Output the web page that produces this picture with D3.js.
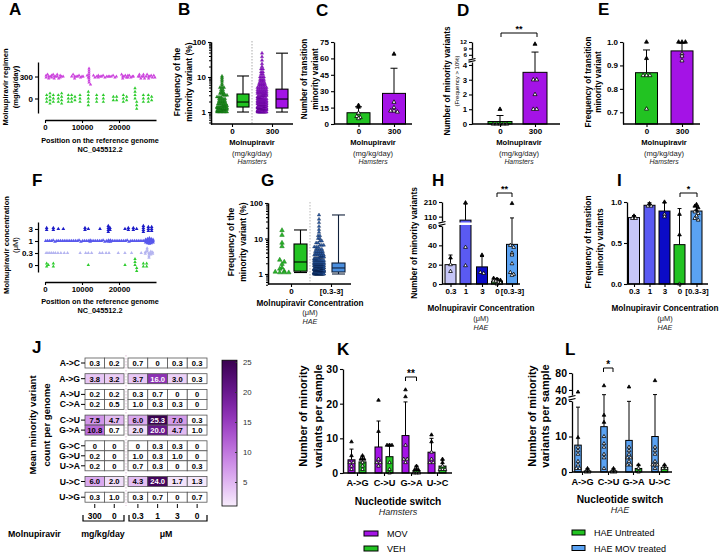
<!DOCTYPE html>
<html>
<head>
<meta charset="utf-8">
<script src="https://cdn.jsdelivr.net/npm/d3@7/dist/d3.min.js"></script>
<style>
html,body{margin:0;padding:0;background:#fff;}
svg{display:block;}
</style>
</head>
<body>
<script>
// ======================= DATA =======================
const genomeTicks = [0, 10000, 20000];

// A: minority-variant positions on the genome per regimen (mg/kg/day)
const aRegimens = ["300", "0"];
const aPos300 = [300,300,700,1000,1000,1400,1800,1800,2200,2500,2500,2900,3300,3300,3700,4100,4100,4500,4900,
  7200,7600,8000,8000,8400,8800,9200,9600,10000,10300,
  11400,11700,11900,11900,11900,11900,11900,11900,11900,11900,12300,
  13100,13500,14000,14400,14400,14900,15300,15700,16200,16700,17100,17500,17900,18400,18900,19300,
  20700,21000,21000,21300,21700,22000,22400,22400,22800,23200,23600,23900,
  25200,25500,25500,25900,26200,26600,26600,26900,27300,27600,28000,28000,28300,28700,29000,29400,29700];
const aPos0 = [450,450,450,1350,1350,1350,1350,2250,2250,2250,3600,3600,3600,4500,4500,4500,4500,
  6300,6300,6300,7200,7200,7200,8100,8100,9460,9460,9460,11710,11710,11710,11710,11710,
  13960,13960,13960,15770,15770,15770,18470,18470,19370,19370,21170,21170,21170,22070,22070,
  24330,24330,24330,24330,24780,24780,24780,26580,26580,26580,27930,27930,27930,28830,28830];

// B: frequency of minority variants (%), [value, count]
const bGroups = ["0", "300"];
const bBins0 = [[1.0,8],[1.1,8],[1.2,7],[1.3,6],[1.4,5],[1.5,5],[1.7,5],[1.9,4],[2.1,4],[2.4,4],[2.7,3],[3.0,3],[3.4,3],[3.8,2],[4.3,2],[5.0,3],[5.8,1],[6.5,1],[7.5,1],[8.5,1],[9.5,1],[10.5,1]];
const bBins300 = [[1.0,22],[1.1,20],[1.2,18],[1.3,16],[1.4,14],[1.5,13],[1.7,14],[1.9,12],[2.1,12],[2.4,11],[2.7,10],[3.0,9],[3.4,8],[3.8,7],[4.3,6],[5.0,6],[5.8,4],[6.5,4],[7.5,3],[8.5,3],[10,3],[12,2],[14,2],[17,2],[20,1],[24,1],[30,1],[38,1],[48,1]];
const bBox0 = [1.0, 1.39, 1.93, 3.27, 10.7];     // min, q1, median, q3, max
const bBox300 = [1.0, 1.30, 2.35, 4.5, 48];
const logMajor = [1, 10, 100];
const logMinor = [0.5,0.6,0.7,0.8,0.9,2,3,4,5,6,7,8,9,20,30,40,50,60,70,80,90];

// C: number of transition minority variants
const cGroups = ["0", "300"];
const cMeans = [10.3, 28];
const cSD = [5.4, 23];
const cPts = [[17, 15.5, 10, 7, 6, 5], [64, 20, 15, 12, 12, 11]];
const cTicks = [0, 15, 30, 45, 60, 75];

// D: number of minority variants (freq > 10%)
const dGroups = ["0", "300"];
const dMeans = [0.167, 3.5];
const dSD = [0.408, 3.78];
const dPts = [[1, 0, 0, 0, 0, 0], [11, 3, 3, 2, 1, 1]];
const dTicksLow = [0, 1, 2, 3, 4];
const dTicksHigh = [6, 9, 12];

// E: frequency of transition minority variant
const eGroups = ["0", "300"];
const eMeans = [0.869, 0.962];
const eSD = [0.097, 0.033];
const ePts = [[1.0, 0.93, 0.857, 0.857, 0.857, 0.714], [1.0, 1.0, 1.0, 0.95, 0.94, 0.92]];
const eTicks = [0.7, 0.8, 0.9, 1.0];

// F: positions per concentration (µM)
const fConc = ["3", "1", "0.3", "0"];
const fPos3 = [450,450,2250,2250,3600,4950,10810,10810,11710,14860,17110,17110,17110,17110,17560,17560,21620,22520,22520,23870,23870,24770,26580,26580,26580,26580,27930,27930,27930,28830,28830,28830];
const fPos1 = [200,700,1200,1700,2200,2700,3200,3700,4200,4700,5200,5700,6200,6700,7200,7700,8200,8700,9200,9700,10200,10700,11200,11700,12200,12200,12700,13200,13700,14200,14700,15200,15700,16200,16700,17200,17200,17700,17700,18200,18700,19200,19700,20200,20700,21200,21700,22200,22700,23200,23700,24200,24700,25200,25700,26200,26700,27200,27200,27200,27700,27700,27700,27700,28200,28200,28200,28200,28200,28700,28700,28700,28700,29200,29200,29200];
const fPos03 = [300,800,1300,1800,2300,2800,3500,4300,5200,6100,9500,11000,11700,12600,14800,15500,16500,17300,19800,21600,23400,26000,27100,27100,27600,27600,27600,28100,28100,28100,28100,28600,28600,28600,29100,29100];
const fPos0 = [450,450,900,2250,2250,11710,21620,24330,24330,24330,24780,24780,26580,26580,27480,27480];

// G: frequency (%) in HAE
const gGroups = ["0", "[0.3-3]"];
const gPts0 = [17, 12.5, 7.5, 6, 2.5, 2.2, 1.9, 1.5, 1.4, 1.2, 1.15, 1.1, 1.1, 1.1];
const gBinsT = [[1.0,30],[1.1,28],[1.2,25],[1.3,22],[1.4,18],[1.5,16],[1.7,15],[1.9,12],[2.1,10],[2.4,9],[2.7,8],[3.0,7],[3.4,6],[3.8,5],[4.3,5],[5.0,4],[5.8,3],[6.5,3],[7.5,2],[8.5,2],[10,2],[12,2],[15,1],[18,1],[22,1],[28,1],[35,1],[46,1]];
const gBox0 = [1.1, 1.2, 2.18, 7.0, 17.4];
const gBoxT = [1.0, 1.14, 1.48, 2.04, 46];

// H: number of minority variants in HAE
const hGroups = ["0.3", "1", "3", "0", "[0.3-3]"];
const hMeans = [20, 86, 17.7, 3, 41];
const hSD = [10, 110, 10.7, 2.8, 60];
const hPts = [[27, 20, 13], [205, 38, 19], [30, 12, 11], [6, 5, 4, 3, 3, 2, 1, 0], [200, 40, 38, 32, 30, 21, 12, 10, 9]];
const hTicksLow = [0, 20, 40, 60];
const hTicksHigh = [110, 210];

// I: frequency of transition minority variants in HAE
const iGroups = ["0.3", "1", "3", "0", "[0.3-3]"];
const iMeans = [0.81, 0.96, 0.89, 0.48, 0.89];
const iSD = [0.025, 0.03, 0.1, 0.44, 0.06];
const iPts = [[0.83, 0.8, 0.8], [0.98, 0.95, 0.95], [1.0, 0.85, 0.82], [0.85, 0.6, 0.0], [0.97, 0.95, 0.93, 0.9, 0.88, 0.86, 0.83, 0.8, 0.78]];
const iTicks = [0, 0.5, 1.0];

// J: mean minority variant count per genome
const jRows = ["A->C","A->G","A->U","C->A","C->U","G->A","G->C","G->U","U->A","U->C","U->G"];
const jRowGroups = [["A->C"],["A->G"],["A->U","C->A"],["C->U","G->A"],["G->C","G->U","U->A"],["U->C"],["U->G"]];
const jColsHam = ["300", "0"];
const jColsHAE = ["0.3", "1", "3", "0"];
const jValues = [
  [0.3, 0.2, 0.7, 0, 0.3, 0.3],
  [3.8, 3.2, 3.7, 16.0, 3.0, 0.3],
  [0.2, 0.2, 0.3, 0.7, 0, 0],
  [0.2, 0.5, 1.0, 0.3, 0.3, 0],
  [7.5, 4.7, 6.0, 25.3, 7.0, 0.3],
  [10.8, 0.7, 2.0, 20.0, 4.7, 1.0],
  [0, 0, 0, 0.3, 0.3, 0],
  [0.2, 0, 1.0, 0.3, 1.0, 0],
  [0.2, 0, 0.7, 0.3, 0, 0.3],
  [6.0, 2.0, 4.3, 24.0, 1.7, 1.3],
  [0.3, 1.0, 0.3, 0.7, 0, 0.7]
];
const jBarTicks = [5, 10, 15, 20, 25];

// K: hamsters, per nucleotide switch
const kSwitches = ["A->G", "C->U", "G->A", "U->C"];
const kMovMeans = [3.8, 7.5, 10.8, 6.0];
const kMovSD = [3.1, 7.5, 9.7, 4.0];
const kVehMeans = [3.2, 4.7, 0.7, 2.0];
const kVehSD = [1.7, 3.6, 1.3, 1.7];
const kMovPts = [[9, 5, 3, 3, 2, 1], [21, 12, 4, 3, 3, 2], [24, 22, 8, 4, 3, 4], [11, 9, 6, 4, 3, 3]];
const kVehPts = [[5, 4, 4, 3, 2, 1], [8, 8, 8, 3, 1, 0], [2, 1, 1, 0, 0, 0], [4, 3, 2, 1, 1, 1]];
const kTicks = [0, 10, 20, 30];

// L: HAE, per nucleotide switch
const lSwitches = ["A->G", "C->U", "G->A", "U->C"];
const lMovMeans = [7.57, 12.77, 8.9, 10.0];
const lMovSD = [10.7, 16, 11, 19];
const lUntMeans = [0.3, 0.3, 1.0, 1.3];
const lUntSD = [0.6, 0.6, 1.0, 0.6];
const lMovPts = [[35, 9.7, 7, 6, 5, 3, 2, 1, 1], [50, 16, 14, 10, 8, 7, 5, 4, 1], [47, 7, 6, 5, 4, 3, 2, 2, 4], [62, 7, 6, 5, 3, 2, 2, 1, 2]];
const lUntPts = [[1, 0, 0], [1, 0, 0], [2, 1, 0], [2, 1, 1]];
const lTicksLow = [0, 10, 20];
const lTicksHigh = [40, 80];

// ======================= STYLE =======================
const FONT = "'Liberation Sans', Arial, Helvetica, sans-serif";
const GREEN = "#22c322", PURPLE = "#a413e6", LBLUE = "#5aa2f2";
const hColors = ["#c6c6f7", "#5a5af2", "#0b0bc6", GREEN, LBLUE];

const svg = d3.select("body").append("svg").attr("width", 719).attr("height", 553)
  .style("font-family", FONT);

function txt(x, y, s, o = {}) {
  const t = svg.append("text").attr("x", x).attr("y", y).text(s)
    .attr("font-size", o.size || 8).attr("font-weight", o.weight || "bold")
    .attr("text-anchor", o.anchor || "middle").attr("dy", o.dy == null ? "0.35em" : o.dy)
    .attr("fill", o.fill || "#000").attr("font-family", FONT);
  if (o.italic) t.attr("font-style", "italic");
  if (o.rot) t.attr("transform", `rotate(-90,${x},${y})`);
  return t;
}
function letter(x, y, s) { txt(x, y, s, { size: 17, anchor: "start", dy: 0 }); }

function styleAxis(g, size) {
  g.attr("font-family", FONT);
  g.select(".domain").attr("stroke", "#000").attr("stroke-width", 1.3);
  g.selectAll(".tick line").attr("stroke", "#000").attr("stroke-width", 1.1);
  g.selectAll(".tick text").attr("font-size", size).attr("font-weight", "bold").attr("fill", "#000");
}
function yAxis(scale, x, ticks, size, fmt, pad) {
  const g = svg.append("g").attr("transform", `translate(${x},0)`)
    .call(d3.axisLeft(scale).tickValues(ticks).tickSize(3).tickSizeOuter(0).tickPadding(pad == null ? 2 : pad).tickFormat(fmt || (d => d)));
  styleAxis(g, size);
  return g;
}
function xCat(names, centers, y, x0, x1, size, pad) {
  const sc = d3.scaleOrdinal().domain(names).range(centers);
  const g = svg.append("g").attr("transform", `translate(0,${y})`)
    .call(d3.axisBottom(sc).tickSize(3).tickSizeOuter(0).tickPadding(pad == null ? 1 : pad));
  g.select(".domain").remove();
  g.insert("line", ":first-child").attr("x1", x0).attr("x2", x1).attr("stroke", "#000").attr("stroke-width", 1.3);
  styleAxis(g, size);
  return sc;
}
function tri(x, y, size, fill, stroke, sw) {
  svg.append("path").attr("d", d3.symbol(d3.symbolTriangle, size)())
    .attr("transform", `translate(${x},${y})`).attr("fill", fill)
    .attr("stroke", stroke || "none").attr("stroke-width", sw || 0);
}
function swarm(vals, yFn, cx, rowH, step, maxHalf) {
  const pts = vals.map(v => ({ v, y: yFn(v) }));
  const rows = d3.group(pts, p => Math.round(p.y / rowH));
  for (const arr of rows.values()) {
    const n = arr.length;
    const s = n > 1 ? Math.min(step, 2 * maxHalf / (n - 1)) : 0;
    arr.forEach((p, i) => p.x = cx + (i - (n - 1) / 2) * s);
  }
  return pts;
}
function stackDots(pos, xs, yc, spacing) {
  const bins = d3.group(pos, p => Math.round(xs(p) / 2));
  const out = [];
  for (const arr of bins.values()) {
    const n = arr.length;
    arr.forEach((p, i) => out.push({ x: xs(p), y: yc + (i - (n - 1) / 2) * spacing }));
  }
  return out;
}
function barSet(centers, means, sds, yFn, width, colors, capW, y0) {
  means.forEach((m, i) => {
    const cx = centers[i], yt = yFn(m), ye = yFn(m + sds[i]);
    svg.append("line").attr("x1", cx).attr("x2", cx).attr("y1", yt).attr("y2", ye).attr("stroke", "#000").attr("stroke-width", 1);
    svg.append("line").attr("x1", cx - capW / 2).attr("x2", cx + capW / 2).attr("y1", ye).attr("y2", ye).attr("stroke", "#000").attr("stroke-width", 1);
    svg.append("rect").attr("x", cx - width / 2).attr("y", yt).attr("width", width).attr("height", Math.max(0, (y0 == null ? yFn(0) : y0) - yt))
      .attr("fill", colors[i]).attr("stroke", "#000").attr("stroke-width", 1);
  });
}
// points: white-centred inside the bar, solid black above it
function pointSet(cx, vals, yFn, half, size, mean) {
  swarm(vals, yFn, cx, 3, 3.4, half).forEach(p =>
    tri(p.x, p.y, size || 7, (mean != null && p.v > mean) ? "#000" : "#fff", "#000", 0.8));
}
function box(cx, w, stats, yFn, fill, stroke) {
  const [mn, q1, md, q3, mx] = stats.map(yFn);
  const st = stroke || "#000";
  svg.append("line").attr("x1", cx).attr("x2", cx).attr("y1", mn).attr("y2", q1).attr("stroke", st).attr("stroke-width", 1.1);
  svg.append("line").attr("x1", cx).attr("x2", cx).attr("y1", q3).attr("y2", mx).attr("stroke", st).attr("stroke-width", 1.1);
  [mn, mx].forEach(y => svg.append("line").attr("x1", cx - w / 2).attr("x2", cx + w / 2).attr("y1", y).attr("y2", y).attr("stroke", st).attr("stroke-width", 1.1));
  svg.append("rect").attr("x", cx - w / 2).attr("y", q3).attr("width", w).attr("height", q1 - q3).attr("fill", fill).attr("stroke", st).attr("stroke-width", 1.1);
  svg.append("line").attr("x1", cx - w / 2).attr("x2", cx + w / 2).attr("y1", md).attr("y2", md).attr("stroke", st).attr("stroke-width", 1.1);
}
function sig(x1, x2, y, label, size) {
  svg.append("path").attr("d", `M${x1},${y + 4}V${y}H${x2}V${y + 4}`).attr("fill", "none").attr("stroke", "#000").attr("stroke-width", 1);
  txt((x1 + x2) / 2, y - 4, label, { size: size || 9 });
}
function broken(low, high, lowMax, highMin) {
  return v => v <= lowMax ? low(v) : v >= highMin ? high(v)
    : low(lowMax) + (v - lowMax) / (highMin - lowMax) * (high(highMin) - low(lowMax));
}
function breakMarks(x, y1, y2) {
  [y1, y2].forEach(y => svg.append("line").attr("x1", x - 3.5).attr("x2", x + 3.5).attr("y1", y + 0.8).attr("y2", y - 0.8).attr("stroke", "#000").attr("stroke-width", 1.1));
}
function logAxis(scale, x, size) {
  const gm = svg.append("g").attr("transform", `translate(${x},0)`)
    .call(d3.axisLeft(scale).tickValues(logMinor).tickSize(2).tickSizeOuter(0).tickFormat(""));
  styleAxis(gm, size);
  yAxis(scale, x, logMajor, size, d => d, 2);
}
function expand(bins) { return bins.flatMap(([v, c]) => Array(c).fill(v)); }

// ======================= PANEL A =======================
letter(9, 15, "A");
const xA = d3.scaleLinear().domain([0, 30000]).range([45, 156]);
const yA = d3.scalePoint().domain(aRegimens).range([62, 113]).padding(0.66);
stackDots(aPos300, xA, yA("300"), 2).forEach(p => tri(p.x, p.y, 5, "#cc44dd"));
stackDots(aPos0, xA, yA("0"), 3.4).forEach(p => tri(p.x, p.y, 5, "#2ecc2e"));
styleAxis(svg.append("g").attr("transform", "translate(38,0)").call(d3.axisLeft(yA).tickSize(3).tickPadding(2).tickSizeOuter(0)), 8);
styleAxis(svg.append("g").attr("transform", "translate(0,120)").call(d3.axisBottom(xA).tickValues(genomeTicks).tickSize(3).tickPadding(1).tickSizeOuter(0).tickFormat(d3.format("d"))), 7.8);
txt(100, 140, "Position on the reference genome", { size: 7.3 });
txt(100, 149, "NC_045512.2", { size: 7.3 });
txt(5.5, 87, "Molnupiravir regimen", { size: 7.6, rot: true });
txt(15, 87, "(mg/kg/day)", { size: 7.6, rot: true });

// ======================= PANEL B =======================
letter(178, 15, "B");
const yB = d3.scaleLog().domain([0.455, 100]).range([124, 42]);
const bX = { s0: 222, b0: 243, sep: 252, s1: 262, b1: 282 };
svg.append("line").attr("x1", bX.sep).attr("x2", bX.sep).attr("y1", 41).attr("y2", 124).attr("stroke", "#888").attr("stroke-width", 0.7).attr("stroke-dasharray", "1.5,1.5");
swarm(expand(bBins0), yB, bX.s0, 2, 2.0, 5).forEach(p => tri(p.x, p.y, 5, "#1f8f1f", "#0f5f0f", 0.3));
swarm(expand(bBins300), yB, bX.s1, 2, 1.9, 4.5).forEach(p => tri(p.x, p.y, 5, "#8e16c6", "#5e0890", 0.3));
box(bX.b0, 12, bBox0, yB, GREEN);
box(bX.b1, 12, bBox300, yB, PURPLE);
logAxis(yB, 211, 8);
xCat(bGroups, [232, 272], 124, 211, 293, 8);
txt(252, 142, "Molnupiravir", { size: 7.6 });
txt(252, 153, "(mg/kg/day)", { size: 7.6, weight: "normal", fill: "#222" });
txt(252, 162, "Hamsters", { size: 6.8, weight: "normal", italic: true, fill: "#222" });
txt(177, 82, "Frequency of the", { size: 8.5, rot: true });
txt(189, 82, "minority variant (%)", { size: 8.5, rot: true });

// ======================= PANEL C =======================
letter(316, 16, "C");
const yC = d3.scaleLinear().domain([0, 75]).range([124, 42]);
const cC = [358.5, 394];
barSet(cC, cMeans, cSD, yC, 23, [GREEN, PURPLE], 7);
cPts.forEach((ps, i) => pointSet(cC[i], ps, yC, 7, 7, cMeans[i]));
yAxis(yC, 334, cTicks, 8);
xCat(cGroups, cC, 124, 334, 412, 8);
txt(373, 142, "Molnupiravir", { size: 7.6 });
txt(373, 153, "(mg/kg/day)", { size: 7.6, weight: "normal", fill: "#222" });
txt(373, 162, "Hamsters", { size: 6.8, weight: "normal", italic: true, fill: "#222" });
txt(304, 79, "Number of transition", { size: 8.2, rot: true });
txt(315, 79, "minority variant", { size: 8.2, rot: true });

// ======================= PANEL D =======================
letter(457, 16, "D");
const yDlow = d3.scaleLinear().domain([0, 4.2]).range([124, 62]);
const yDhigh = d3.scaleLinear().domain([4.5, 12]).range([58, 42]);
const yD = broken(yDlow, yDhigh, 4.2, 4.5);
const cD = [500, 535];
barSet(cD, dMeans, dSD, yD, 24, [GREEN, PURPLE], 7);
dPts.forEach((ps, i) => pointSet(cD[i], ps, yD, 9, 7, dMeans[i]));
yAxis(yDlow, 472, dTicksLow, 7.8);
yAxis(yDhigh, 472, dTicksHigh, 6.2);
breakMarks(472, 59.3, 61.3);
xCat(dGroups, cD, 124, 472, 560, 8);
sig(501, 537, 33, "**", 9);
txt(519, 142, "Molnupiravir", { size: 7.6 });
txt(519, 153, "(mg/kg/day)", { size: 7.6, weight: "normal", fill: "#222" });
txt(519, 162, "Hamsters", { size: 6.8, weight: "normal", italic: true, fill: "#222" });
txt(447, 81, "Number of minority variants", { size: 8.2, rot: true });
txt(457, 81, "(Frequency > 10%)", { size: 6, weight: "normal", rot: true });

// ======================= PANEL E =======================
letter(598, 15, "E");
const yE = d3.scaleLinear().domain([0.65, 1.0]).range([124, 42]);
const cE = [646.5, 682];
barSet(cE, eMeans, eSD, yE, 22, [GREEN, PURPLE], 7, 124);
ePts.forEach((ps, i) => pointSet(cE[i], ps, yE, 8, 7, eMeans[i]));
yAxis(yE, 623, eTicks, 8, d3.format(".1f"));
xCat(eGroups, cE, 124, 623, 700, 8);
txt(664, 142, "Molnupiravir", { size: 7.6 });
txt(664, 153, "(mg/kg/day)", { size: 7.6, weight: "normal", fill: "#222" });
txt(664, 162, "Hamsters", { size: 6.8, weight: "normal", italic: true, fill: "#222" });
txt(588, 82, "Frequency of transition", { size: 8.2, rot: true });
txt(598, 82, "minority variant", { size: 8.2, rot: true });

// ======================= PANEL F =======================
letter(32, 186, "F");
const xF = d3.scaleLinear().domain([0, 30000]).range([45, 156]);
const yF = d3.scalePoint().domain(fConc).range([222, 272]).padding(0.58);
stackDots(fPos03, xF, yF("0.3"), 1.6).forEach(p => tri(p.x, p.y, 5, "#b4b4f0"));
stackDots(fPos1, xF, yF("1"), 1.4).forEach(p => tri(p.x, p.y, 6, "#5858ec"));
stackDots(fPos3, xF, yF("3"), 2).forEach(p => tri(p.x, p.y, 6, "#1c1cc8"));
stackDots(fPos0, xF, yF("0"), 3).forEach(p => tri(p.x, p.y, 5, "#2ecc2e"));
styleAxis(svg.append("g").attr("transform", "translate(38,0)").call(d3.axisLeft(yF).tickSize(3).tickPadding(2).tickSizeOuter(0)), 8);
styleAxis(svg.append("g").attr("transform", "translate(0,282)").call(d3.axisBottom(xF).tickValues(genomeTicks).tickSize(3).tickPadding(1).tickSizeOuter(0).tickFormat(d3.format("d"))), 7.8);
txt(100, 301, "Position on the reference genome", { size: 7.3 });
txt(100, 310, "NC_045512.2", { size: 7.3 });
txt(6, 245, "Molnupiravir concentration", { size: 7.6, rot: true });
txt(15, 245, "(μM)", { size: 7.6, weight: "normal", rot: true });

// ======================= PANEL G =======================
letter(261, 186, "G");
const yG = d3.scaleLog().domain([0.523, 100]).range([284, 203]);
svg.append("line").attr("x1", 310).attr("x2", 310).attr("y1", 202).attr("y2", 284).attr("stroke", "#999").attr("stroke-width", 0.7).attr("stroke-dasharray", "1.5,1.5");
swarm(gPts0, yG, 282, 3, 4.5, 7).forEach(p => tri(p.x, p.y, 9, "#2bb52b", "#137a13", 0.5));
swarm(expand(gBinsT), yG, 319, 2, 1.9, 5).forEach(p => tri(p.x, p.y, 5, "#2d5da6", "#0d2550", 0.4));
box(300.5, 13, gBox0, yG, GREEN, "#000");
box(338.5, 13, gBoxT, yG, "#4b8fdf", "#10203a");
logAxis(yG, 268, 8);
xCat(gGroups, [291, 331], 284, 268, 351, 8);
txt(310, 303, "Molnupiravir Concentration", { size: 8.2 });
txt(310, 312, "(μM)", { size: 7.4, weight: "normal", fill: "#222" });
txt(310, 321, "HAE", { size: 7.2, weight: "normal", italic: true, fill: "#222" });
txt(231, 242, "Frequency of the", { size: 8.5, rot: true });
txt(243, 242, "minority variant (%)", { size: 8.5, rot: true });

// ======================= PANEL H =======================
letter(432, 186, "H");
const yHlow = d3.scaleLinear().domain([0, 60]).range([284, 226]);
const yHhigh = d3.scaleLinear().domain([80, 210]).range([221, 202]);
const yH = broken(yHlow, yHhigh, 60, 80);
const cH = [450.5, 465.5, 482, 497, 512];
barSet(cH, hMeans, hSD, yH, 11, hColors, 4);
// white gap where the bar crosses the axis break
svg.append("rect").attr("x", cH[1] - 6.5).attr("y", 222.5).attr("width", 13).attr("height", 2.5).attr("fill", "#fff");
hPts.forEach((ps, i) => pointSet(cH[i], ps, yH, 3.5, 6, hMeans[i]));
yAxis(yHlow, 442, hTicksLow, 8);
yAxis(yHhigh, 442, hTicksHigh, 8);
breakMarks(442, 222.3, 224.8);
xCat(hGroups, cH, 284, 442, 520, 8);
sig(497, 512, 193, "**", 9);
txt(481, 308, "Molnupiravir Concentration", { size: 8.2 });
txt(481, 318, "(μM)", { size: 7.4, weight: "normal", fill: "#222" });
txt(481, 327, "HAE", { size: 7.2, weight: "normal", italic: true, fill: "#222" });
txt(414, 243, "Number of minority variants", { size: 8.4, rot: true });

// ======================= PANEL I =======================
letter(617, 186, "I");
const yI = d3.scaleLinear().domain([0, 1]).range([284, 202]);
const cI = [634, 649.5, 664.5, 679.5, 696.5];
barSet(cI, iMeans, iSD, yI, 11, hColors, 4);
iPts.forEach((ps, i) => pointSet(cI[i], ps, yI, 3.5, 6, iMeans[i]));
yAxis(yI, 627, iTicks, 8, d3.format(".1f"));
xCat(iGroups, cI, 284, 627, 708, 8);
sig(680, 697, 193, "*", 9);
txt(665, 308, "Molnupiravir Concentration", { size: 8.2 });
txt(665, 318, "(μM)", { size: 7.4, weight: "normal", fill: "#222" });
txt(665, 327, "HAE", { size: 7.2, weight: "normal", italic: true, fill: "#222" });
txt(588, 242, "Frequency of transition", { size: 8.4, rot: true });
txt(600, 242, "minority variants", { size: 8.4, rot: true });

// ======================= PANEL J =======================
letter(32, 353, "J");
const colHam = d3.scaleBand().domain(jColsHam).range([85, 124]);
const colHAE = d3.scaleBand().domain(jColsHAE.map((c, i) => c + "_" + i)).range([128, 207]);
const colX = [...jColsHam.map(c => colHam(c)), ...jColsHAE.map((c, i) => colHAE(c + "_" + i))];
const colW = [colHam.bandwidth(), colHam.bandwidth(), colHAE.bandwidth(), colHAE.bandwidth(), colHAE.bandwidth(), colHAE.bandwidth()];
const rowH = 10, rowGap = 5.7;
const rowY = {};
{ let y = 358; jRowGroups.forEach(g => { g.forEach(r => { rowY[r] = y; y += rowH; }); y += rowGap; }); }
const jColor = d3.scaleSequential(d3.interpolateRgbBasis(["#f7ecfc", "#dcaaf0", "#bd6ddc", "#9433bd", "#64148a", "#3a0250"])).domain([1, 25]);
svg.append("line").attr("x1", 126).attr("x2", 126).attr("y1", 355).attr("y2", 506).attr("stroke", "#e6cfe0").attr("stroke-width", 1.3).attr("stroke-dasharray", "1.5,1.5");
jRows.forEach((r, ri) => {
  const y = rowY[r];
  jValues[ri].forEach((v, ci) => {
    svg.append("rect").attr("x", colX[ci]).attr("y", y).attr("width", colW[ci]).attr("height", rowH)
      .attr("fill", v > 1.05 ? jColor(v) : "#fff").attr("stroke", "#555").attr("stroke-width", 0.8);
    txt(colX[ci] + colW[ci] / 2, y + rowH / 2 + 0.3, v === 0 ? "0" : v.toFixed(1), { size: 7.6, fill: v >= 14 ? "#fff" : "#000" });
  });
  svg.append("line").attr("x1", 81).attr("x2", 85).attr("y1", y + rowH / 2).attr("y2", y + rowH / 2).attr("stroke", "#000").attr("stroke-width", 1);
  txt(80, y + rowH / 2, r, { size: 8.6, anchor: "end" });
});
// column ticks and labels
const jColLabels = [...jColsHam, ...jColsHAE];
colX.forEach((x, ci) => {
  const cx = x + colW[ci] / 2;
  svg.append("line").attr("x1", cx).attr("x2", cx).attr("y1", 504).attr("y2", 508).attr("stroke", "#000").attr("stroke-width", 1);
  txt(cx, 516.5, jColLabels[ci], { size: 8.4 });
});
svg.append("path").attr("d", "M83,515V521H124V515").attr("fill", "none").attr("stroke", "#000").attr("stroke-width", 1.2);
svg.append("path").attr("d", "M129,515V521H207V515").attr("fill", "none").attr("stroke", "#000").attr("stroke-width", 1.2);
txt(8, 534, "Molnupiravir", { size: 8.8, anchor: "start" });
txt(103, 534, "mg/kg/day", { size: 8.8 });
txt(166, 534, "μM", { size: 8.8 });
txt(33, 425, "Mean minority variant", { size: 9.6, rot: true });
txt(46.5, 425, "count per genome", { size: 9.6, rot: true });
// colour bar
const cbY = d3.scaleLinear().domain([1, 25]).range([506, 362]);
const grad = svg.append("defs").append("linearGradient").attr("id", "jgrad").attr("x1", 0).attr("x2", 0).attr("y1", 1).attr("y2", 0);
d3.range(0, 1.0001, 0.1).forEach(t => grad.append("stop").attr("offset", t).attr("stop-color", jColor(1 + 24 * t)));
svg.append("rect").attr("x", 222).attr("y", cbY(25.3)).attr("width", 15).attr("height", cbY(1) - cbY(25.3)).attr("fill", "url(#jgrad)").attr("stroke", "#000").attr("stroke-width", 0.8);
const cbAxis = svg.append("g").attr("transform", "translate(237,0)").call(d3.axisLeft(cbY).tickValues(jBarTicks).tickSize(2).tickSizeOuter(0).tickFormat(""));
cbAxis.select(".domain").remove();
cbAxis.selectAll(".tick line").attr("stroke", "#333");
jBarTicks.forEach(t => txt(243, cbY(t), t, { size: 7.8, weight: "normal", anchor: "start", fill: "#333" }));

// ======================= PANEL K =======================
letter(337, 355, "K");
const yK = d3.scaleLinear().domain([0, 30]).range([473, 369]);
const kC = [357, 384, 411, 437];
const kMovX = kC.map(c => c - 5.5), kVehX = kC.map(c => c + 5.5);
barSet(kMovX, kMovMeans, kMovSD, yK, 7, kSwitches.map(() => PURPLE), 4);
barSet(kVehX, kVehMeans, kVehSD, yK, 7, kSwitches.map(() => GREEN), 4);
kMovPts.forEach((ps, i) => pointSet(kMovX[i], ps, yK, 2.5, 5.5, kMovMeans[i]));
kVehPts.forEach((ps, i) => pointSet(kVehX[i], ps, yK, 2.5, 5.5, kVehMeans[i]));
yAxis(yK, 343, kTicks, 10.5, d => d, 2);
xCat(kSwitches, kC, 473, 343, 452, 9.2, 3);
sig(405.5, 416.5, 377, "**", 10);
txt(398, 501, "Nucleotide switch", { size: 10.2 });
txt(398, 512, "Hamsters", { size: 9, weight: "normal", italic: true, fill: "#222" });
txt(303, 416, "Number of minority", { size: 11, rot: true });
txt(318, 416, "variants per sample", { size: 11, rot: true });
svg.append("rect").attr("x", 364).attr("y", 531).attr("width", 14).attr("height", 5).attr("fill", PURPLE).attr("stroke", "#000").attr("stroke-width", 1);
txt(387, 533.5, "MOV", { size: 9, weight: "normal", anchor: "start" });
svg.append("rect").attr("x", 364).attr("y", 546).attr("width", 14).attr("height", 5).attr("fill", GREEN).attr("stroke", "#000").attr("stroke-width", 1);
txt(387, 548.5, "VEH", { size: 9, weight: "normal", anchor: "start" });

// ======================= PANEL L =======================
letter(565, 355, "L");
const yLlow = d3.scaleLinear().domain([0, 20]).range([472, 401]);
const yLhigh = d3.scaleLinear().domain([28, 80]).range([395, 373]);
const yL = broken(yLlow, yLhigh, 20, 28);
const lC = [582, 608, 633, 659];
const lMovX = lC.map(c => c - 4), lUntX = lC.map(c => c + 5.5);
barSet(lMovX, lMovMeans, lMovSD, yL, 6.5, lSwitches.map(() => LBLUE), 4);
barSet(lUntX, lUntMeans, lUntSD, yL, 6.5, lSwitches.map(() => GREEN), 4);
lMovPts.forEach((ps, i) => pointSet(lMovX[i], ps, yL, 2.3, 5.5, lMovMeans[i]));
lUntPts.forEach((ps, i) => pointSet(lUntX[i], ps, yL, 2.3, 5.5, lUntMeans[i]));
yAxis(yLlow, 572, lTicksLow, 10.5, d => d, 2);
yAxis(yLhigh, 572, lTicksHigh, 10.5, d => d, 2);
breakMarks(572, 396.3, 399.3);
xCat(lSwitches, lC, 472, 572, 672, 9.2, 3);
sig(603.5, 613, 368, "*", 10);
txt(620, 499, "Nucleotide switch", { size: 10.2 });
txt(620, 510, "HAE", { size: 9, weight: "normal", italic: true, fill: "#222" });
txt(532, 416, "Number of minority", { size: 11, rot: true });
txt(545, 416, "variants per sample", { size: 11, rot: true });
svg.append("rect").attr("x", 572).attr("y", 530).attr("width", 13).attr("height", 5).attr("fill", GREEN).attr("stroke", "#000").attr("stroke-width", 1);
txt(594, 533, "HAE Untreated", { size: 9, weight: "normal", anchor: "start" });
svg.append("rect").attr("x", 572).attr("y", 545.5).attr("width", 13).attr("height", 5).attr("fill", LBLUE).attr("stroke", "#000").attr("stroke-width", 1);
txt(594, 548.5, "HAE MOV treated", { size: 9, weight: "normal", anchor: "start" });
</script>
</body>
</html>
